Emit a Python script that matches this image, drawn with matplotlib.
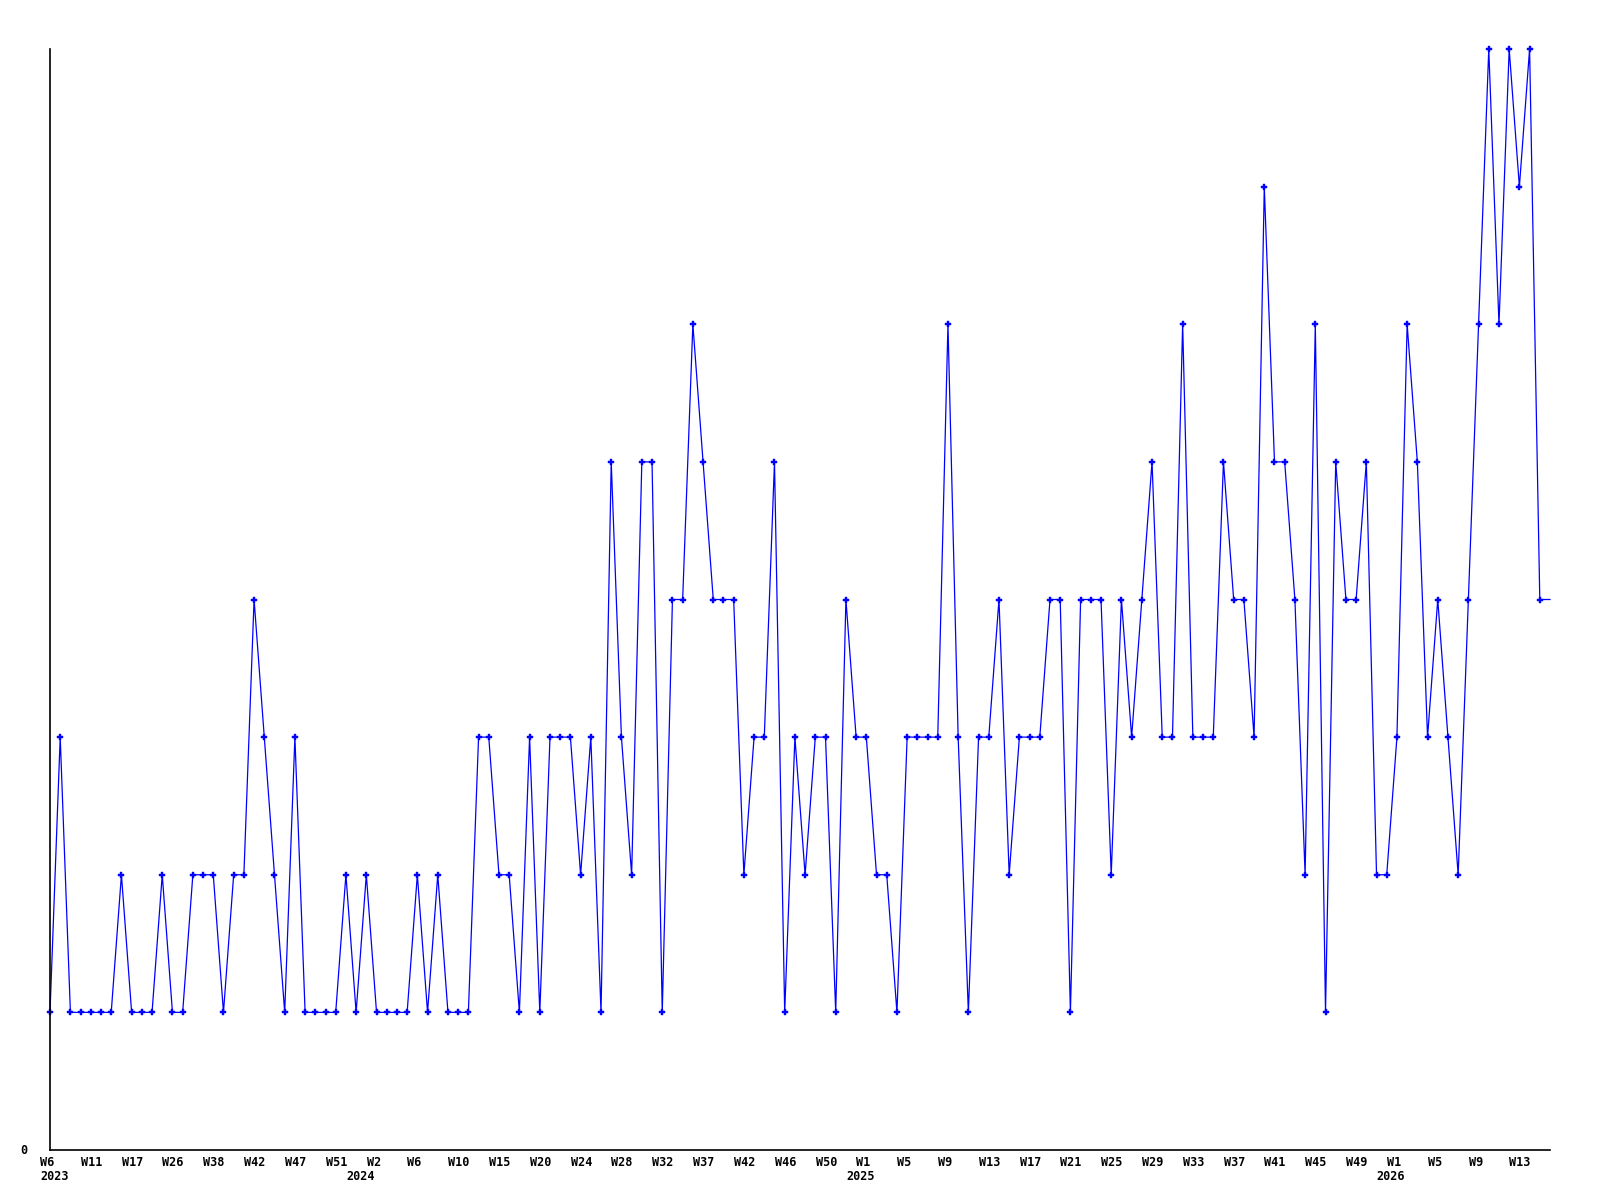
import matplotlib
matplotlib.use("Agg")
import matplotlib.pyplot as plt

# ------------------------------
# DATA
# ------------------------------
# weekly counts, oldest first; the last entry is the running week (drawn without marker)
values = [
    1, 3, 1, 1, 1, 1, 1, 2, 1, 1,
    1, 2, 1, 1, 2, 2, 2, 1, 2, 2,
    4, 3, 2, 1, 3, 1, 1, 1, 1, 2,
    1, 2, 1, 1, 1, 1, 2, 1, 2, 1,
    1, 1, 3, 3, 2, 2, 1, 3, 1, 3,
    3, 3, 2, 3, 1, 5, 3, 2, 5, 5,
    1, 4, 4, 6, 5, 4, 4, 4, 2, 3,
    3, 5, 1, 3, 2, 3, 3, 1, 4, 3,
    3, 2, 2, 1, 3, 3, 3, 3, 6, 3,
    1, 3, 3, 4, 2, 3, 3, 3, 4, 4,
    1, 4, 4, 4, 2, 4, 3, 4, 5, 3,
    3, 6, 3, 3, 3, 5, 4, 4, 3, 7,
    5, 5, 4, 2, 6, 1, 5, 4, 4, 5,
    2, 2, 3, 6, 5, 3, 4, 3, 2, 4,
    6, 8, 6, 8, 7, 8, 4, 4,
]

# one label every 4th point
week_labels = [
    "W6", "W11", "W17", "W26", "W38", "W42", "W47", "W51",
    "W2", "W6", "W10", "W15", "W20", "W24", "W28", "W32", "W37", "W42", "W46", "W50",
    "W1", "W5", "W9", "W13", "W17", "W21", "W25", "W29", "W33", "W37", "W41", "W45", "W49",
    "W1", "W5", "W9", "W13",
]
year_labels = ["2023", "2024", "2025", "2026"]
year_index = [0, 30, 79, 131]

# ------------------------------
# PLOT
# ------------------------------
fig = plt.figure(figsize=(16, 12), dpi=100)
ax = fig.add_axes([50 / 1600, 50 / 1200, 1500 / 1600, 1101 / 1200])

x = list(range(len(values)))
ax.plot(x, values, color="#0000ff", lw=0.9,
        marker="P", markersize=5, markeredgewidth=0.3, markeredgecolor="#0000ff",
        markevery=list(range(len(values) - 1)), clip_on=False)

ax.set_xlim(0, len(values) - 1)
ax.set_ylim(0, 8)

for side in ["top", "right"]:
    ax.spines[side].set_visible(False)
for side in ["left", "bottom"]:
    ax.spines[side].set_linewidth(1.2)
    ax.spines[side].set_color("black")

ax.set_xticks([])
ax.set_yticks([])

font = dict(family="DejaVu Sans Mono", fontweight="bold", fontsize=8.5, color="black")
px = 1 / 1600  # one pixel in figure coords, used for the label offset

for i, lab in enumerate(week_labels):
    xf = ax.transData.transform((i * 4, 0))[0] / 1600 - 10 * px
    fig.text(xf, 1 - 1162 / 1200, lab, ha="left", va="center", **font)

for idx, lab in zip(year_index, year_labels):
    xf = ax.transData.transform((idx, 0))[0] / 1600 - 10 * px
    fig.text(xf, 1 - 1177 / 1200, lab, ha="left", va="center", **font)

fig.text(20 / 1600, 1 - 1150 / 1200, "0", ha="left", va="center", **font)

fig.savefig("out.png", dpi=100, facecolor="white")
